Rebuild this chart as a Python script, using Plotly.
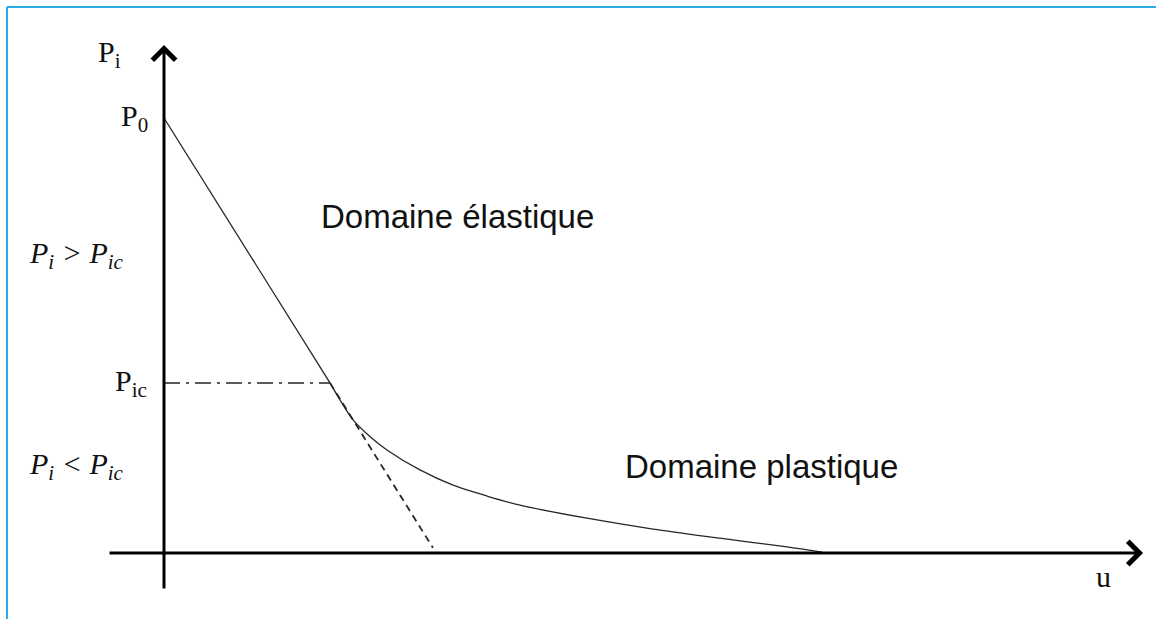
import plotly.graph_objects as go

# Convergence–confinement: support pressure P_i versus wall displacement u
p0 = 1.0          # initial in-situ pressure P0
p_ic = 0.391      # critical pressure P_ic (onset of plasticity)
u_ic = 1.0        # displacement reached at P_ic

# Elastic branch (straight line from P0 down to P_ic)
elastic_u = [0.0, 1.0]
elastic_p = [1.0, 0.391]

# Extension of the elastic line below P_ic (dashed)
ext_u = [1.0, 1.62]
ext_p = [0.391, 0.012]

# Plastic branch
plastic_u = [1.0, 1.06, 1.139, 1.24, 1.343, 1.542, 1.741, 1.946, 2.145, 2.548, 2.946, 3.349, 3.753, 3.964]
plastic_p = [0.391, 0.352, 0.306, 0.268, 0.237, 0.191, 0.156, 0.131, 0.110, 0.080, 0.055, 0.034, 0.014, 0.002]

# Axis extents
u_axis = [-0.337, 5.898]
p_axis = [-0.085, 1.168]

curve_color = "#262626"
serif = "Liberation Serif"
sans = "Liberation Sans"

fig = go.Figure()

fig.add_trace(go.Scatter(x=elastic_u, y=elastic_p, mode="lines",
                         line=dict(color=curve_color, width=1.3), hoverinfo="skip"))
fig.add_trace(go.Scatter(x=plastic_u, y=plastic_p, mode="lines",
                         line=dict(color=curve_color, width=1.3, shape="spline", smoothing=0.8),
                         hoverinfo="skip"))
fig.add_trace(go.Scatter(x=ext_u, y=ext_p, mode="lines",
                         line=dict(color=curve_color, width=1.8, dash="7px,5px"), hoverinfo="skip"))
fig.add_trace(go.Scatter(x=[0.0, u_ic], y=[p_ic, p_ic], mode="lines",
                         line=dict(color=curve_color, width=1.4, dash="16px,6px,3px,6px"),
                         hoverinfo="skip"))

# Axes drawn as arrows
arrows = [
    dict(x=u_axis[1], y=0, ax=u_axis[0], ay=0),
    dict(x=0, y=p_axis[1], ax=0, ay=p_axis[0]),
]
for a in arrows:
    fig.add_annotation(x=a["x"], y=a["y"], ax=a["ax"], ay=a["ay"], xref="x", yref="y",
                       axref="x", ayref="y", text="", showarrow=True, arrowhead=4,
                       arrowsize=1.5, arrowwidth=3, arrowcolor="#000000", standoff=0)

# Labels
labels = [
    dict(text="P<sub>i</sub>", x=-0.33, y=1.147, font=dict(family=serif, size=30)),
    dict(text="P<sub>0</sub>", x=-0.18, y=p0, font=dict(family=serif, size=30)),
    dict(text="P<sub>ic</sub>", x=-0.2, y=p_ic, font=dict(family=serif, size=30)),
    dict(text="<i>P<sub>i</sub> &gt; P<sub>ic</sub></i>", x=-0.53, y=0.685, font=dict(family=serif, size=30)),
    dict(text="<i>P<sub>i</sub> &lt; P<sub>ic</sub></i>", x=-0.53, y=0.2, font=dict(family=serif, size=30)),
    dict(text="Domaine élastique", x=1.77, y=0.773, font=dict(family=sans, size=33)),
    dict(text="Domaine plastique", x=3.6, y=0.2, font=dict(family=sans, size=33)),
    dict(text="u", x=5.66, y=-0.055, font=dict(family=serif, size=30)),
]
for lb in labels:
    fig.add_annotation(x=lb["x"], y=lb["y"], xref="x", yref="y", text=lb["text"],
                       showarrow=False, font=dict(color="#111111", **lb["font"]),
                       xanchor="center", yanchor="middle")

# Light blue frame (top and left edges)
frame = "#29ABE8"
fig.add_shape(type="line", xref="paper", yref="paper", x0=7 / 1156, x1=1.0,
              y0=1 - 7 / 619, y1=1 - 7 / 619, line=dict(color=frame, width=2))
fig.add_shape(type="line", xref="paper", yref="paper", x0=7 / 1156, x1=7 / 1156,
              y0=0, y1=1 - 7 / 619, line=dict(color=frame, width=2))

fig.update_layout(
    width=1156, height=619,
    margin=dict(l=0, r=0, t=0, b=0),
    paper_bgcolor="white", plot_bgcolor="white",
    showlegend=False,
    xaxis=dict(range=[-0.988, 5.976], visible=False, fixedrange=True),
    yaxis=dict(range=[-0.1517, 1.2713], visible=False, fixedrange=True),
)

fig.write_html("out.html")
